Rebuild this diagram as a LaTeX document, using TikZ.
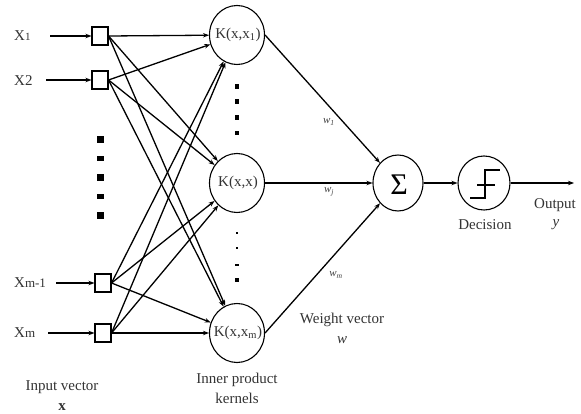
\documentclass[tikz,border=0pt]{standalone}
\usepackage{fontspec}
\setmainfont{Liberation Serif}
\usetikzlibrary{arrows.meta,shapes.geometric}
\begin{document}
\begin{tikzpicture}[x=1pt,y=-1pt,
  txt/.style={font=\fontsize{15}{17}\selectfont, text=black!80, inner sep=0pt},
  small/.style={font=\fontsize{11}{12}\selectfont\itshape, text=black!75, inner sep=0pt},
  inbox/.style={draw, line width=1.1pt, minimum width=16pt, minimum height=18pt, inner sep=0pt},
  unit/.style={draw, ellipse, line width=1.1pt, inner sep=0pt},
  kern/.style={unit, minimum width=55pt, minimum height=59pt},
  conn/.style={line width=1.3pt, -{Stealth[length=6pt,width=4.5pt]}},
  wire/.style={line width=1.1pt},
  blk/.style={fill=black, draw=none, inner sep=0pt}
]
\useasboundingbox (0,0) rectangle (581,414);

% input boxes
\node[inbox] (in1) at (100,36) {};
\node[inbox] (in2) at (100,80) {};
\node[inbox] (in3) at (103,283) {};
\node[inbox] (in4) at (103,333) {};

% input labels and feed arrows
\node[txt, anchor=west] (l1) at (14,36) {X{\fontsize{11}{12}\selectfont 1}};
\node[txt, anchor=west] (l2) at (14,81) {X2};
\node[txt, anchor=west] (l3) at (14,283) {X{\fontsize{13}{14}\selectfont m-1}};
\node[txt, anchor=west] (l4) at (14,333) {X{\fontsize{13}{14}\selectfont m}};
\coordinate (s1) at (50,36);
\coordinate (s2) at (46,80);
\coordinate (s3) at (56,283);
\coordinate (s4) at (48,333);
\draw[conn] (s1) -- (in1);
\draw[conn] (s2) -- (in2);
\draw[conn] (s3) -- (in3);
\draw[conn] (s4) -- (in4);

% vertical ellipsis between the inputs
\node[blk, minimum width=7pt, minimum height=7pt] (d1) at (100,140) {};
\node[blk, minimum width=7pt, minimum height=5pt] (d2) at (100,159) {};
\node[blk, minimum width=7pt, minimum height=7pt] (d3) at (100,178) {};
\node[blk, minimum width=7pt, minimum height=5pt] (d4) at (100,197) {};
\node[blk, minimum width=7pt, minimum height=7pt] (d5) at (100,216) {};

% kernel units
\node[kern] (k1) at (237,35) {};
\node[kern] (k2) at (237,183) {};
\node[kern] (k3) at (237,333) {};
\node[txt] (k1t) at (238,35) {K(x,x\textsubscript{1})};
\node[txt] (k2t) at (238,183) {K(x,x)};
\node[txt] (k3t) at (238,333) {K(x,x\textsubscript{m})};

% ellipsis between kernel units
\node[blk, minimum width=4pt, minimum height=5pt] (e1) at (237,87) {};
\node[blk, minimum width=4pt, minimum height=5pt] (e2) at (237,102) {};
\node[blk, minimum width=4pt, minimum height=5pt] (e3) at (237,118) {};
\node[blk, minimum width=4pt, minimum height=4pt] (e4) at (237,133) {};
\node[blk, minimum width=2.5pt, minimum height=2.5pt] (e5) at (237,233) {};
\node[blk, minimum width=2.5pt, minimum height=2.5pt] (e6) at (237,248) {};
\node[blk, minimum width=4pt, minimum height=2.5pt] (e7) at (237,265) {};
\node[blk, minimum width=4pt, minimum height=4pt] (e8) at (237,280) {};

% full connection: every input box to every kernel
\foreach \i in {in1,in2,in3,in4}{
  \foreach \k in {k1,k2,k3}{
    \draw[conn] (\i.east) -- (\k);
  }
}

% summation and decision units
\node[unit, minimum width=50pt, minimum height=56pt] (sum) at (398,183) {};
\node[inner sep=0pt, font=\fontsize{30}{32}\selectfont] (sumt) at (399,185) {Σ};
\node[unit, minimum width=52pt, minimum height=54pt] (dec) at (484,183) {};
\draw[wire] ([shift={(-14,15)}]dec.center) -- ([shift={(1,15)}]dec.center)
  -- ([shift={(1,-13)}]dec.center) -- ([shift={(16,-13)}]dec.center);
\draw[wire] ([shift={(-7,2)}]dec.center) -- ([shift={(11,2)}]dec.center);

% weighted connections to the sum
\draw[conn] (k1.east) -- (sum);
\draw[conn] (k2.east) -- (sum);
\draw[conn] (k3.east) -- (sum);
\node[small] (w1) at (329,122) {w\textsubscript{1}};
\node[small] (wj) at (329,192) {w\textsubscript{j}};
\node[small] (wm) at (336,275) {w\textsubscript{m}};

% output
\draw[conn] (sum) -- (dec);
\coordinate (out) at (574,183);
\draw[conn] (dec) -- (out);

% captions
\node[txt] (cin1) at (62,387) {Input vector};
\node[txt] (cin2) at (62,407) {\textbf{x}};
\node[txt] (ck1) at (237,380) {Inner product};
\node[txt] (ck2) at (237,398) {kernels};
\node[txt] (cw1) at (342,320) {Weight vector};
\node[txt] (cw2) at (342,340) {\textit{w}};
\node[txt] (cd) at (485,225) {Decision};
\node[txt] (co1) at (555,205) {Output};
\node[txt] (co2) at (556,225) {\textit{y}};
\end{tikzpicture}
\end{document}
